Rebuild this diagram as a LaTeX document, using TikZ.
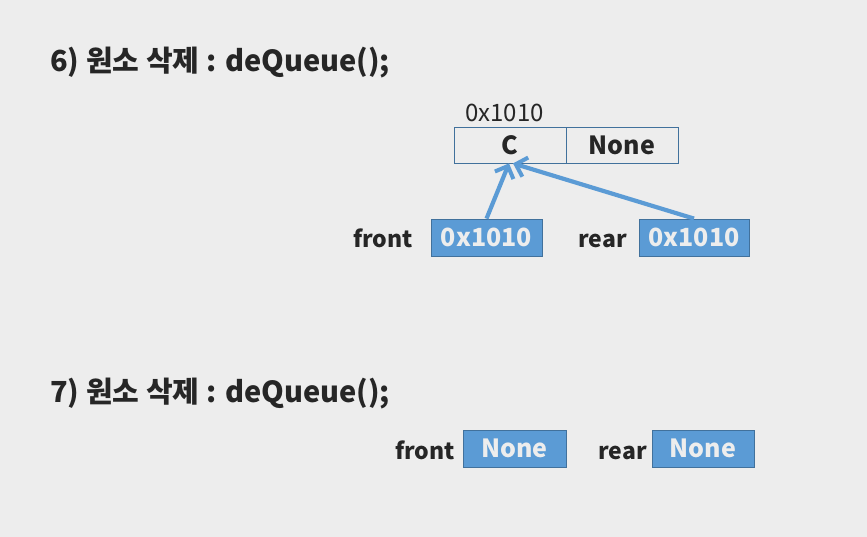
\documentclass[tikz,border=0pt]{standalone}
\usepackage{fontspec}
\setmainfont{Noto Sans CJK KR}
\usepackage{tikz}
\usetikzlibrary{arrows.meta}
\definecolor{bg}{HTML}{EDEDED}
\definecolor{ptrblue}{HTML}{5B9BD5}
\definecolor{ptredge}{HTML}{41719C}
\definecolor{ink}{HTML}{262626}
\tikzset{cell/.style={draw=ptredge, line width=0.8pt, minimum width=112pt, minimum height=36pt, inner sep=0, font=\fontsize{25}{28}\selectfont\bfseries, text=ink}}
\tikzset{ptr box/.style={draw=ptredge, fill=ptrblue, line width=0.8pt, minimum height=37pt, inner sep=0, text=bg, font=\fontsize{25}{29}\selectfont\bfseries}}
\tikzset{ptr label/.style={anchor=base east, inner sep=0, font=\fontsize{23}{26}\selectfont\bfseries, text=ink}}
\tikzset{title/.style={anchor=base west, font=\fontsize{29}{34}\selectfont\bfseries, text=ink, inner sep=0}}
\tikzset{link/.style={draw=ptrblue, line width=4.2pt, -{Straight Barb[length=10pt, width=20pt, line width=4pt]}}}

\begin{document}
\begin{tikzpicture}[x=1pt, y=-1pt]
  \fill[bg] (0,0) rectangle (867,537);
  \useasboundingbox (0,0) rectangle (867,537);

  % step 6
  \node[title] at (50, 72) (t6) {6) 원소 삭제 : deQueue();};
  \node[anchor=base west, inner sep=0, font=\fontsize{24}{28}\selectfont, text=ink] at (465, 122) (addr) {0x1010};
  \node[cell] at (510, 145) (C) {C};
  \node[cell] at (622, 145) (N) {None};

  \node[ptr label] at (413, 248) (fl) {front};
  \node[ptr box, minimum width=111pt] at (486.5, 237.5) (F) {0x1010};
  \node[ptr label] at (627, 248) (rl) {rear};
  \node[ptr box, minimum width=110pt] at (694, 237.5) (R) {0x1010};

  \draw[link] (F.north) -- ([xshift=-1pt]C.south);
  \draw[link] (R.north) -- ([xshift=3pt]C.south);

  % step 7
  \node[title] at (50, 402) (t7) {7) 원소 삭제 : deQueue();};
  \node[ptr label] at (455, 459) (fl2) {front};
  \node[ptr box, minimum width=103pt] at (514.5, 448.5) (F2) {None};
  \node[ptr label] at (647, 459) (rl2) {rear};
  \node[ptr box, minimum width=102pt] at (703, 448.5) (R2) {None};
\end{tikzpicture}
\end{document}
